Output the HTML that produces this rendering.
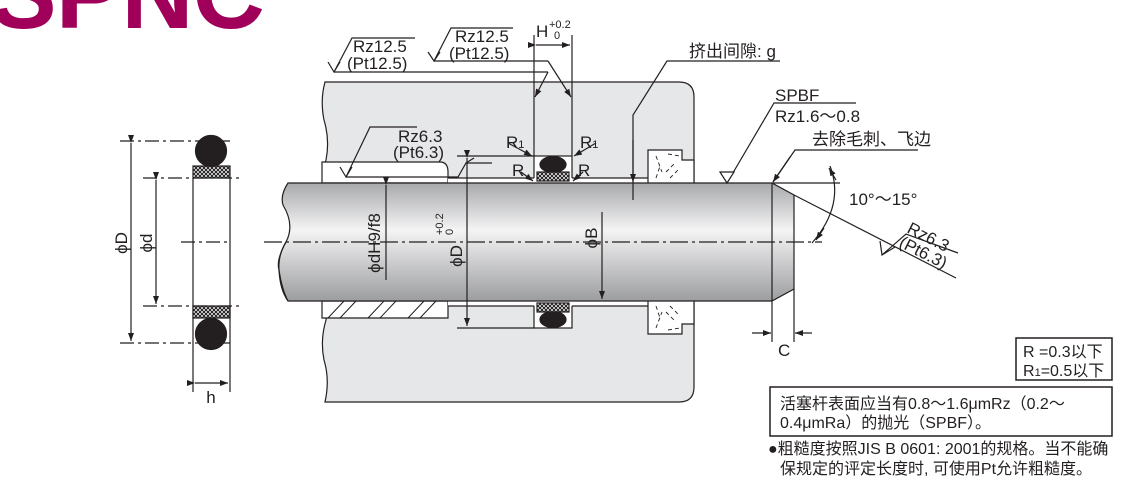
<!DOCTYPE html>
<html><head><meta charset="utf-8"><style>
html,body{margin:0;padding:0;background:#fff;}
svg{display:block;}
text{font-family:"Liberation Sans","Noto Sans CJK SC",sans-serif;fill:#231f20;}
</style></head><body>
<svg width="1123" height="483" viewBox="0 0 1123 483" xmlns="http://www.w3.org/2000/svg">
<defs>
<linearGradient id="rod" x1="0" y1="0" x2="0" y2="1">
<stop offset="0" stop-color="#a8a9ab"/><stop offset="0.4" stop-color="#f4f4f5"/><stop offset="1" stop-color="#9c9d9f"/>
</linearGradient>
<pattern id="xh" width="4" height="4" patternUnits="userSpaceOnUse">
<rect width="4" height="4" fill="#fff"/><path d="M0 0L4 4M4 0L0 4" stroke="#231f20" stroke-width="1.1"/>
</pattern>
<marker id="ar" markerWidth="8" markerHeight="6" refX="8" refY="3" orient="auto" markerUnits="userSpaceOnUse"><path d="M0 0L8 3L0 6z" fill="#231f20"/></marker>
</defs>
<!-- title -->
<text x="-10" y="28" font-size="100" font-weight="bold" style="fill:#a0005a" letter-spacing="-1">SPNC</text>

<g stroke="#231f20" stroke-width="1.2" fill="none">
<!-- small ring -->
<line x1="120" y1="141" x2="230" y2="141" stroke-dasharray="14,4,3,4"/>
<line x1="120" y1="343" x2="230" y2="343" stroke-dasharray="14,4,3,4"/>
<line x1="143" y1="178" x2="243" y2="178" stroke-dasharray="14,4,3,4"/>
<line x1="143" y1="306" x2="243" y2="306" stroke-dasharray="14,4,3,4"/>
<line x1="181" y1="242" x2="230" y2="242" stroke-dasharray="14,4,3,4"/>
<line x1="193" y1="178" x2="193" y2="392"/><line x1="230" y1="178" x2="230" y2="392"/>
<rect x="193" y="166" width="37" height="12" fill="url(#xh)"/>
<rect x="193" y="306" width="37" height="12" fill="url(#xh)"/>
<circle cx="211" cy="151" r="15.5" fill="#231f20"/>
<circle cx="211" cy="334" r="15.5" fill="#231f20"/>
<line x1="131" y1="143" x2="131" y2="341" marker-start="url(#ar)" marker-end="url(#ar)"/>
<line x1="156" y1="180" x2="156" y2="304" marker-start="url(#ar)" marker-end="url(#ar)"/>
<line x1="195" y1="383" x2="228" y2="383" marker-start="url(#ar)" marker-end="url(#ar)"/>

<!-- housing -->
<path d="M325 82H679Q694 82 694 97V387Q694 402 679 402H325Q330 380 324 360Q320 340 326 320Q330 300 324 280Q320 260 326 240Q330 220 324 200Q320 180 326 160Q330 140 324 120Q320 100 325 82Z" fill="#e6e7e8"/>
<path d="M322 162H440Q448 162 448 172V183H322Z" fill="#fff"/>
<path d="M322 301H448V318H322Z" fill="#fff"/>
<path d="M340 318L356 301M380 318L396 301M420 318L436 301M328 318L344 301M368 318L384 301M408 318L424 301" stroke-width="1"/>
<rect x="534" y="156" width="38" height="27" fill="#fff"/>
<rect x="534" y="301" width="38" height="27" fill="#fff"/>
<rect x="448" y="178" width="200" height="5" fill="#fff" stroke="none"/>
<line x1="448" y1="178" x2="534" y2="178"/><line x1="572" y1="178" x2="648" y2="178"/>
<rect x="448" y="301" width="200" height="5" fill="#fff" stroke="none"/>
<line x1="448" y1="306" x2="534" y2="306"/><line x1="572" y1="306" x2="648" y2="306"/>
<path d="M648 183V150H682V160H694V183" fill="#fff"/>
<path d="M648 301V334H682V324H694V301" fill="#fff"/>
<path d="M656 156L662 172M666 172L676 162M670 178L680 168M656 178L660 166M668 154L680 156" stroke-dasharray="4,3" stroke-width="0.9"/>
<path d="M656 328L662 312M666 312L676 322M670 306L680 316M656 306L660 318M668 330L680 328" stroke-dasharray="4,3" stroke-width="0.9"/>
<ellipse cx="553" cy="164.5" rx="13" ry="8" fill="#231f20"/>
<rect x="537" y="172" width="32" height="9" fill="url(#xh)"/>
<ellipse cx="553" cy="319.5" rx="13" ry="8" fill="#231f20"/>
<rect x="537" y="303" width="32" height="9" fill="url(#xh)"/>

<!-- rod -->
<path d="M288 183H772L794 195V289L772 301H288Q280 290 279 270Q278 255 286 242Q295 225 283 205Q280 195 288 183Z" fill="url(#rod)"/>
<line x1="772" y1="183" x2="772" y2="301"/>
<path d="M286 242Q276 260 279 270Q282 290 288 301" />
<line x1="264" y1="242" x2="822" y2="242" stroke-dasharray="18,4,3,4"/>

<!-- dims -->
<line x1="386" y1="185" x2="386" y2="280" marker-start="url(#ar)"/>
<line x1="467" y1="158" x2="467" y2="326" marker-start="url(#ar)" marker-end="url(#ar)"/>
<line x1="457" y1="156" x2="534" y2="156"/><line x1="457" y1="328" x2="534" y2="328"/>
<line x1="602" y1="212" x2="602" y2="299" marker-end="url(#ar)"/>
<line x1="534" y1="35" x2="534" y2="156"/><line x1="572" y1="35" x2="572" y2="156"/>
<line x1="536" y1="45" x2="570" y2="45" marker-start="url(#ar)" marker-end="url(#ar)"/>
<path d="M328 62L334 72L340 62M334 72L352 38H415M334 72H548" /><line x1="548" y1="72" x2="535" y2="97" marker-end="url(#ar)"/>
<path d="M428 52L434 61L440 52M434 61L451 28H513M434 61H548"/><line x1="548" y1="61" x2="571" y2="97" marker-end="url(#ar)"/>
<path d="M340 167L346 177L352 167M346 177L370 127H417M346 177H458L466 163H492"/><line x1="466" y1="163" x2="474" y2="158"/>
<line x1="508" y1="143" x2="532" y2="156" marker-end="url(#ar)"/>
<line x1="596" y1="143" x2="574" y2="156" marker-end="url(#ar)"/>
<line x1="521" y1="172" x2="533" y2="181" marker-end="url(#ar)"/>
<line x1="583" y1="172" x2="573" y2="181" marker-end="url(#ar)"/>
<path d="M780 61H667L633 115V200"/><line x1="633" y1="140" x2="633" y2="182" marker-end="url(#ar)"/>
<path d="M856 103H774L727 183"/><path d="M720 172L727 183L734 172Z" fill="#fff"/>
<path d="M918 150H795L773 182"/><line x1="790" y1="157" x2="773" y2="182" marker-end="url(#ar)"/>
<line x1="772" y1="183" x2="840" y2="183"/>
<line x1="794" y1="195" x2="956" y2="278"/>
<path d="M830 166Q845 205 812 243" /><line x1="836" y1="180" x2="829" y2="168" marker-end="url(#ar)"/><line x1="824" y1="228" x2="816" y2="240" marker-end="url(#ar)"/>
<path d="M880 241L882 255L895 247M882 255L906 234L958 253"/>
<line x1="794" y1="289" x2="794" y2="342"/><line x1="772" y1="301" x2="772" y2="342"/>
<line x1="752" y1="333" x2="771" y2="333" marker-end="url(#ar)"/><line x1="812" y1="333" x2="795" y2="333" marker-end="url(#ar)"/>
<rect x="1016" y="338" width="96" height="42" stroke-width="1.5"/>
<rect x="770" y="387" width="342" height="49" stroke-width="1.5"/>
</g>

<g font-size="17">
<text x="120" y="250" transform="rotate(-90 120 243)" text-anchor="middle">ϕD</text>
<text x="145" y="250" transform="rotate(-90 145 243)" text-anchor="middle">ϕd</text>
<text x="211" y="403" text-anchor="middle">h</text>
<text x="375" y="248" transform="rotate(-90 375 243)" text-anchor="middle">ϕdH9/f8</text>
<text x="456" y="262" transform="rotate(-90 456 256)" text-anchor="middle">ϕD</text>
<text x="437" y="241" transform="rotate(-90 437 235)" font-size="11">+0.2</text>
<text x="447" y="241" transform="rotate(-90 447 235)" font-size="11">  0</text>
<text x="592" y="243" transform="rotate(-90 592 238)" text-anchor="middle">ϕB</text>
<text x="536" y="37">H</text>
<text x="549" y="28" font-size="11">+0.2</text><text x="554" y="39" font-size="11">0</text>
<text x="353" y="52">Rz12.5</text><text x="347" y="69">(Pt12.5)</text>
<text x="455" y="42">Rz12.5</text><text x="449" y="59">(Pt12.5)</text>
<text x="398" y="142">Rz6.3</text><text x="393" y="158">(Pt6.3)</text>
<text x="506" y="148">R<tspan font-size="11">1</tspan></text>
<text x="580" y="148">R<tspan font-size="11">1</tspan></text>
<text x="512" y="176">R</text>
<text x="578" y="176">R</text>
<text x="689" y="57">挤出间隙: g</text>
<text x="775" y="101">SPBF</text>
<text x="775" y="122">Rz1.6～0.8</text>
<text x="812" y="145">去除毛刺、飞边</text>
<text x="849" y="205">10°～15°</text>
<text x="906" y="232" transform="rotate(27 906 232)">Rz6.3</text>
<text x="898" y="246" transform="rotate(27 898 246)">(Pt6.3)</text>
<text x="778" y="356">C</text>
<text x="1023" y="357" font-size="16">R =0.3以下</text>
<text x="1023" y="376" font-size="16">R<tspan font-size="11">1</tspan>=0.5以下</text>
<text x="780" y="409" font-size="16">活塞杆表面应当有0.8～1.6μmRz（0.2～</text>
<text x="780" y="428" font-size="16">0.4μmRa）的抛光（SPBF）。</text>
<text x="768" y="454" font-size="16">●粗糙度按照JIS B 0601: 2001的规格。当不能确</text>
<text x="780" y="474" font-size="16">保规定的评定长度时, 可使用Pt允许粗糙度。</text>
</g>
</svg>
</body></html>
